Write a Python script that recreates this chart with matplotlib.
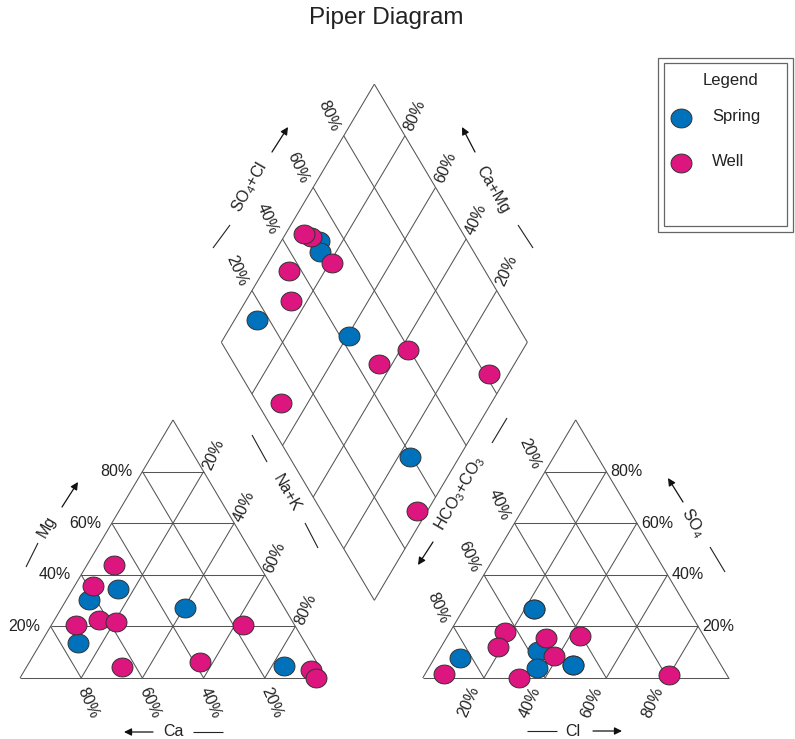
import matplotlib.pyplot as plt
import numpy as np
from matplotlib.patches import Rectangle

plt.rcParams['font.family'] = ['Liberation Sans', 'DejaVu Sans']
plt.rcParams['mathtext.fontset'] = 'custom'
plt.rcParams['mathtext.rm'] = 'Liberation Sans'
plt.rcParams['mathtext.it'] = 'Liberation Sans:italic'

# percent of meq/l
spring_ca = [74.3, 50.8, 62.4, 32.6, 11.4]
spring_mg = [13.5, 34.4, 30.1, 27.0, 4.6]
spring_na = [12.2, 14.8, 7.5, 40.4, 84.0]
spring_hco3 = [48.5, 50.3, 84.0, 57.1, 60.6]
spring_so4 = [5.0, 26.6, 7.7, 10.4, 3.9]
spring_cl = [46.5, 23.1, 8.3, 32.5, 35.5]

well_ca = [47.5, 58.4, 71.4, 63.0, 57.8, 16.8, 38.1, 64.6, 3.3, 3.3]
well_mg = [43.6, 35.5, 20.5, 22.4, 21.6, 20.5, 6.2, 4.2, 3.1, 0.0]
well_na = [8.9, 6.1, 8.1, 14.6, 20.6, 62.7, 55.7, 31.2, 93.6, 96.7]
well_hco3 = [50.3, 52.0, 64.2, 69.4, 48.5, 40.4, 52.7, 92.3, 18.8, 68.5]
well_so4 = [26.6, 15.4, 17.8, 12.0, 5.0, 16.2, 8.5, 1.5, 1.2, 0.0]
well_cl = [23.1, 32.6, 18.0, 18.6, 46.5, 43.4, 38.8, 6.2, 80.0, 31.5]

ticks = [20, 40, 60, 80]

# geometry
GAP = 31.6
H = np.sqrt(3) / 2
X0R = 100 + GAP
BX, BY = 100 + GAP / 2, GAP / 2 * np.sqrt(3) - 1.3
SX, SY = 3.06, 2.98  # px per data unit


def px2d(x, y):
    return (x - 20) / SX, (678 - y) / SY


def off(dx, dy):
    return dx / SX, -dy / SY


def left_xy(na, mg):
    na, mg = np.asarray(na, float), np.asarray(mg, float)
    return na + mg / 2, mg * H


def right_xy(cl, so4):
    cl, so4 = np.asarray(cl, float), np.asarray(so4, float)
    return X0R + cl + so4 / 2, so4 * H


def diam_xy(na, anion):
    na, anion = np.asarray(na, float), np.asarray(anion, float)
    return BX + (anion - (100 - na)) / 2, BY + (anion + (100 - na)) * H


fig = plt.figure(figsize=(7.95, 7.39), dpi=100)
ax = fig.add_axes([0, 0, 1, 1])
ax.set_xlim(px2d(0, 0)[0], px2d(795, 0)[0])
ax.set_ylim(px2d(0, 739)[1], px2d(0, 0)[1])
ax.axis('off')

lc = '#555555'
lw = 0.75


def seg(p, q, c=lc, w=lw):
    ax.plot([p[0], q[0]], [p[1], q[1]], color=c, lw=w,
            solid_capstyle='butt', zorder=1)


# left triangle
seg(left_xy(0, 0), left_xy(100, 0))
seg(left_xy(0, 0), left_xy(0, 100))
seg(left_xy(100, 0), left_xy(0, 100))
for k in ticks:
    seg(left_xy(0, k), left_xy(100 - k, k))
    seg(left_xy(k, 0), left_xy(k, 100 - k))
    seg(left_xy(100 - k, 0), left_xy(0, 100 - k))
# right triangle
seg(right_xy(0, 0), right_xy(100, 0))
seg(right_xy(0, 0), right_xy(0, 100))
seg(right_xy(100, 0), right_xy(0, 100))
for k in ticks:
    seg(right_xy(0, k), right_xy(100 - k, k))
    seg(right_xy(k, 0), right_xy(k, 100 - k))
    seg(right_xy(100 - k, 0), right_xy(0, 100 - k))
# diamond
for k in [0, 20, 40, 60, 80, 100]:
    seg(diam_xy(k, 0), diam_xy(k, 100))
    seg(diam_xy(0, k), diam_xy(100, k))

tc = '#222222'
fs = 11.5
rot = 66


def lab(xy, d, s, ha='center', rotation=0):
    o = off(*d)
    ax.text(xy[0] + o[0], xy[1] + o[1], s, fontsize=fs, color=tc,
            ha=ha, va='center', rotation=rotation, rotation_mode='anchor')


for k in ticks:
    # left triangle: Mg, Ca, Na+K
    lab(left_xy(0, k), (-10, 0), f'{k}%', ha='right')
    lab(left_xy(100 - k, 0), (7, 25), f'{k}%', rotation=-rot)
    lab(left_xy(k, 100 - k), (10, -17), f'{k}%', rotation=rot)
    # right triangle: Cl, HCO3, SO4
    lab(right_xy(k, 0), (-15, 24), f'{k}%', rotation=rot)
    lab(right_xy(0, 100 - k), (-15, -18), f'{k}%', rotation=-rot)
    lab(right_xy(100 - k, k), (4, 0), f'{k}%', ha='left')
    # diamond: SO4+Cl, Ca+Mg
    lab(diam_xy(0, k), (-15, -20), f'{k}%', rotation=-rot)
    lab(diam_xy(100 - k, 100), (10, -20), f'{k}%', rotation=rot)


def name(x, y, s, r=0):
    ax.text(*px2d(x, y), s, fontsize=fs, color=tc, ha='center', va='center',
            rotation=r, rotation_mode='anchor')


def dash(x1, y1, x2, y2):
    seg(px2d(x1, y1), px2d(x2, y2), c='#222222', w=0.8)


def arrow(x1, y1, x2, y2):
    ax.annotate('', xy=px2d(x2, y2), xytext=px2d(x1, y1),
                arrowprops=dict(arrowstyle='-|>', color='#111111', lw=0.9,
                                mutation_scale=11, shrinkA=0, shrinkB=0))


dash(26, 567, 38, 543); name(47, 527, 'Mg', 60); arrow(62, 507, 78, 482)
arrow(153, 732, 124, 732); name(173, 732, 'Ca'); dash(193, 732, 223, 732)
dash(252, 435, 267, 462); name(287, 493, 'Na+K', -60); dash(305, 523, 318, 548)
dash(213, 248, 230, 225); name(250, 187, r'SO$_4$+Cl', 60); arrow(272, 152, 288, 127)
arrow(475, 152, 462, 127); name(493, 190, 'Ca+Mg', -60); dash(518, 225, 533, 248)
dash(492, 443, 507, 418); name(460, 493, r'HCO$_3$+CO$_3$', 60); arrow(433, 542, 418, 565)
arrow(683, 502, 668, 478); name(693, 523, r'SO$_4$', -60); dash(710, 547, 725, 572)
dash(527, 731, 557, 731); name(573, 731, 'Cl'); arrow(593, 731, 622, 731)

# ellipse marker
t = np.linspace(0, 2 * np.pi, 60)
marker = np.column_stack([np.cos(t), 0.9 * np.sin(t)])
blue, pink = '#0072bc', '#dc157f'
ms = 228
mk = dict(marker=marker, s=ms, edgecolors='#333333', linewidths=0.7)

s_an = np.add(spring_so4, spring_cl)
w_an = np.add(well_so4, well_cl)

ax.scatter(*left_xy(spring_na, spring_mg), color=blue, zorder=3, **mk)
ax.scatter(*left_xy(well_na, well_mg), color=pink, zorder=4, **mk)
ax.scatter(*diam_xy(spring_na, s_an), color=blue, zorder=3, **mk)
ax.scatter(*diam_xy(well_na, w_an), color=pink, zorder=4, **mk)

# right triangle: wells sharing a spring's anion mix sit beneath it
spring_pts = set(zip(spring_so4, spring_cl))
for so4, cl in zip(well_so4, well_cl):
    z = 2 if (so4, cl) in spring_pts else 4
    ax.scatter(*right_xy(cl, so4), color=pink, zorder=z, **mk)
ax.scatter(*right_xy(spring_cl, spring_so4), color=blue, zorder=3, **mk)

# title
ax.text(*px2d(386, 18), 'Piper Diagram', fontsize=17.5, color=tc,
        ha='center', va='center')


# legend box
def fpx(x, y):
    return x / 795, 1 - y / 739


for (x1, y1, x2, y2) in [(658, 58, 793, 232), (664, 63, 787, 226)]:
    fx, fy = fpx(x1, y2)
    fig.patches.append(Rectangle((fx, fy), (x2 - x1) / 795, (y2 - y1) / 739,
                                 transform=fig.transFigure, fill=False,
                                 ec='#666666', lw=0.9))
fig.text(*fpx(731, 80), 'Legend', fontsize=12, color=tc, ha='center', va='center')
for (yy, c, s) in [(118, blue, 'Spring'), (163, pink, 'Well')]:
    ax.plot(*fpx(681, yy), transform=fig.transFigure, marker=marker,
            markersize=np.sqrt(ms), color=c, mec='#333333', mew=0.7,
            ls='none', clip_on=False)
    fig.text(*fpx(712, yy - 1), s, fontsize=12, color=tc, ha='left', va='center')

fig.savefig('out.png', dpi=100)
